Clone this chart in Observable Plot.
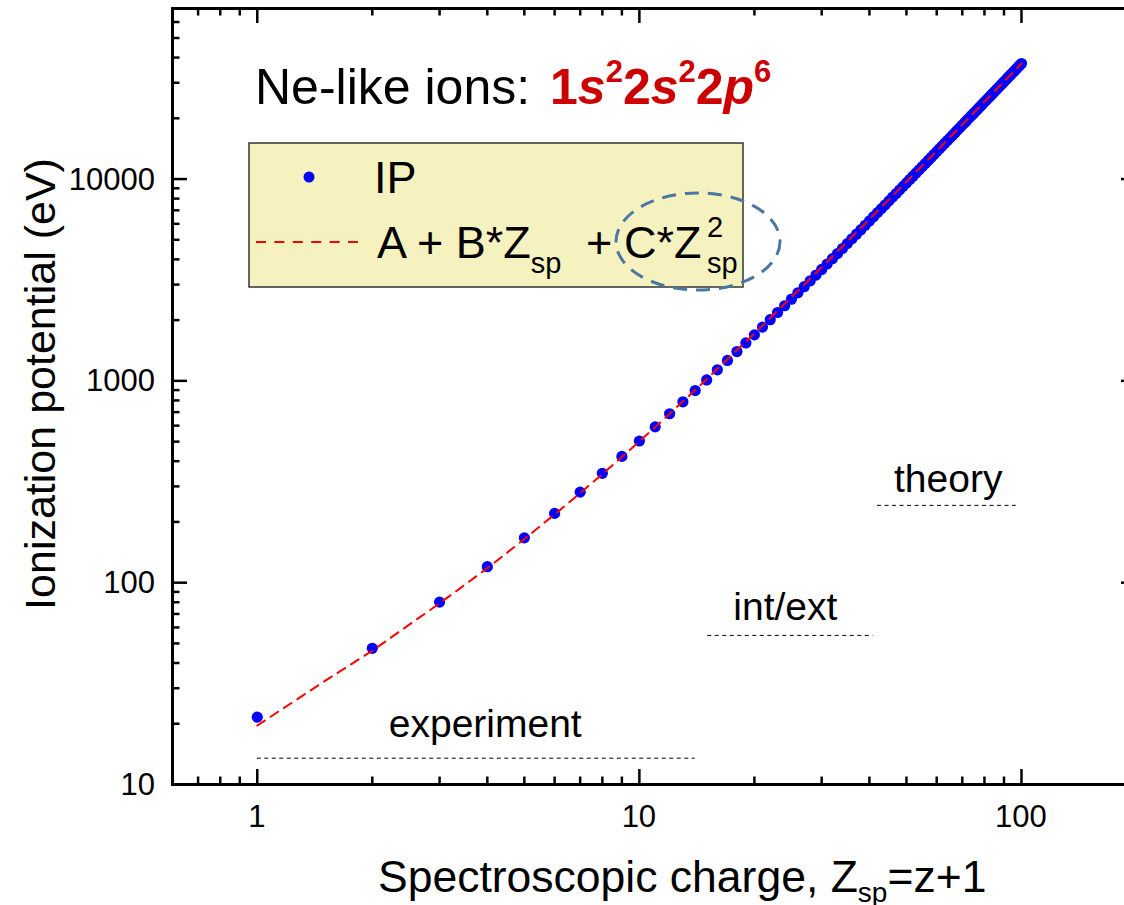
<!DOCTYPE html>
<html><head><meta charset="utf-8">
<script src="https://cdn.jsdelivr.net/npm/d3@7"></script>
<script src="https://cdn.jsdelivr.net/npm/@observablehq/plot@0.6"></script>
<style>
html,body{margin:0;padding:0;background:#fff;overflow:hidden}
#wrap{width:1124px;height:905px;overflow:hidden;position:relative}
#wrap svg{max-width:none !important}
</style></head><body><div id="wrap"></div>
<script>
// ---- data ----
const zsp = [1,2,3,4,5,6,7,8,9,10,11,12,13,14,15,16,17,18,19,20,21,22,23,24,25,26,27,28,29,30,31,32,33,34,35,36,37,38,39,40,41,42,43,44,45,46,47,48,49,50,51,52,53,54,55,56,57,58,59,60,61,62,63,64,65,66,67,68,69,70,71,72,73,74,75,76,77,78,79,80,81,82,83,84,85,86,87,88,89,90,91,92,93,94,95,96,97,98,99,100];
const ip = [21.56,47.29,80.14,119.99,166.77,220.43,280.95,348.31,422.45,503.67,
  591.6,687.36,787.67,896.0,1010.6,1134.7,1262.7,1397.2,1541.0,1690.5,
  1846.8,2010,2181,2356,2540,2731,2928,3133,3345,3565,
  3794,4030,4275,4528,4788,5056,5331,5613,5903,6199,
  6504,6815,7134,7460,7793,8134,8482,8837,9199,9569,
  9946,10331,10722,11121,11528,11941,12362,12790,13226,13669,
  14119,14576,15041,15513,15992,16479,16973,17474,17982,18498,
  19021,19552,20089,20634,21187,21746,22313,22887,23469,24058,
  24654,25257,25868,26486,27111,27744,28384,29031,29685,30347,
  31016,31693,32376,33067,33766,34471,35184,35904,36632,37367];
const fitZ = [1,1.5,2,2.5,3,4,5,6,7,8,10,12,15,20,25,30,40,50,60,70,80,90,100];
const fitIP = [19.6,32.5,46.0,62.0,79.0,118.0,164.5,218.0,278.0,345.0,501.0,686.2,1019.2,1718.2,2597.2,3656.2,6314.2,9692.2,13790.2,18608.2,24146.2,30404.2,37382.2];
const xMajor = [1,10,100];
const xTickLabels = ["1","10","100"];
const xMinor = [0.7,0.8,0.9,2,3,4,5,6,7,8,9,20,30,40,50,60,70,80,90];
const yMajor = [10,100,1000,10000];
const yTickLabels = ["10","100","1000","10000"];
const yMinor = [20,30,40,50,60,70,80,90,200,300,400,500,600,700,800,900,2000,3000,4000,5000,6000,7000,8000,9000,20000,30000,40000,50000,60000];
const regionNames = ["experiment","int/ext","theory"];
const regionTextX = [3.95,24.1,64.3];
const regionTextY = [17.1,65.0,280];
const regionLineX1 = [1,15.1,42.0];
const regionLineX2 = [14.0,40.9,96.9];
const regionLineY = [13.5,54.8,241.6];

// ---- layout ----
const W = 1136, H = 905, mL = 172, mR = 0, mT = 8, mB = 121;
const iw = W - mL - mR, ih = H - mT - mB;
const FONT = "'Liberation Sans', Arial, Helvetica, sans-serif";

const pts = zsp.map((z, i) => ({z, v: ip[i]}));
const fit = fitZ.map((z, i) => ({z, v: fitIP[i]}));
const regions = regionNames.map((n, i) => ({n, tx: regionTextX[i], ty: regionTextY[i], x1: regionLineX1[i], x2: regionLineX2[i], y: regionLineY[i]}));

const chart = Plot.plot({
  width: W, height: H,
  marginLeft: mL, marginRight: mR, marginTop: mT, marginBottom: mB,
  style: {fontFamily: FONT, background: "white", maxWidth: "none", overflow: "visible"},
  x: {type: "log", domain: [0.6, 200], axis: null},
  y: {type: "log", domain: [10, 70000], axis: null},
  marks: [
    // region separators
    Plot.ruleY(regions, {y: "y", x1: "x1", x2: "x2", stroke: "black", strokeWidth: 1, strokeDasharray: "4,3.5"}),
    Plot.text(regions, {x: "tx", y: "ty", text: "n", fontSize: 39, textAnchor: "middle", lineAnchor: "bottom", fill: "black"}),
    // data
    Plot.dot(pts, {x: "z", y: "v", r: 5.6, fill: "#0000ff", stroke: null}),
    Plot.line(fit, {x: "z", y: "v", stroke: "#ff0000", strokeWidth: 2, strokeDasharray: "9,7"}),
    // ticks (inward, all four sides)
    Plot.ruleX(xMajor, {x: d => d, insetTop: ih - 15, stroke: "black", strokeWidth: 2.5}),
    Plot.ruleX(xMajor, {x: d => d, insetBottom: ih - 15, stroke: "black", strokeWidth: 2.5}),
    Plot.ruleX(xMinor, {x: d => d, insetTop: ih - 7.5, stroke: "black", strokeWidth: 2.5}),
    Plot.ruleX(xMinor, {x: d => d, insetBottom: ih - 7.5, stroke: "black", strokeWidth: 2.5}),
    Plot.ruleY(yMajor, {y: d => d, insetRight: iw - 15, stroke: "black", strokeWidth: 2.5}),
    Plot.ruleY(yMajor, {y: d => d, insetLeft: iw - 15, stroke: "black", strokeWidth: 2.5}),
    Plot.ruleY(yMinor, {y: d => d, insetRight: iw - 7.5, stroke: "black", strokeWidth: 2.5}),
    Plot.ruleY(yMinor, {y: d => d, insetLeft: iw - 7.5, stroke: "black", strokeWidth: 2.5}),
    Plot.frame({stroke: "black", strokeWidth: 3})
  ]
});

document.getElementById("wrap").appendChild(chart);
const svg = d3.select(chart);
const sx = chart.scale("x"), sy = chart.scale("y");
const g = svg.append("g").attr("font-family", FONT).attr("text-anchor", "start");

// Tick labels positioned with the plot's own scales
xMajor.forEach((v, i) => {
  g.append("text").attr("x", sx.apply(v)).attr("y", 827).attr("text-anchor", "middle")
    .attr("font-size", 31).attr("fill", "black").text(xTickLabels[i]);
});
yMajor.forEach((v, i) => {
  g.append("text").attr("x", 155).attr("y", sy.apply(v) + 11).attr("text-anchor", "end")
    .attr("font-size", 31).attr("fill", "black").text(yTickLabels[i]);
});

// Title
const t = g.append("text").attr("x", 255).attr("y", 104).attr("font-size", 50).attr("fill", "black");
t.append("tspan").text("Ne-like ions: ");
const red = "#cc0000";
const parts = [
  {s: "1", it: false, sup: false},
  {s: "s", it: true, sup: false},
  {s: "2", it: false, sup: true},
  {s: "2", it: false, sup: false},
  {s: "s", it: true, sup: false},
  {s: "2", it: false, sup: true},
  {s: "2", it: false, sup: false},
  {s: "p", it: true, sup: false},
  {s: "6", it: false, sup: true}
];
let prevSup = false;
parts.forEach((p, i) => {
  const ts = t.append("tspan").attr("fill", red).attr("font-weight", "bold").text(p.s);
  if (i === 0) ts.attr("dx", 6);
  if (p.it) ts.attr("font-style", "italic");
  if (p.sup) { ts.attr("font-size", 31).attr("dy", -22); }
  else if (prevSup) { ts.attr("dy", 22); }
  prevSup = p.sup;
});

// Legend box
const lg = g.append("g");
lg.append("rect").attr("x", 249).attr("y", 143).attr("width", 494).attr("height", 144)
  .attr("fill", "#f6f2c0").attr("stroke", "#333").attr("stroke-width", 1.5);
lg.append("circle").attr("cx", 309).attr("cy", 177).attr("r", 5.5).attr("fill", "#0000ff");
lg.append("text").attr("x", 374).attr("y", 193).attr("font-size", 45).attr("fill", "black").text("IP");
lg.append("line").attr("x1", 256).attr("x2", 358).attr("y1", 242).attr("y2", 242)
  .attr("stroke", "#ff0000").attr("stroke-width", 2).attr("stroke-dasharray", "10,8.4");
const lt = lg.append("text").attr("y", 258).attr("font-size", 45).attr("fill", "black");
lt.append("tspan").attr("x", 377).text("A + B*Z");
lt.append("tspan").attr("font-size", 29).attr("dy", 15).text("sp");
lt.append("tspan").attr("x", 586).attr("dy", -15).text("+");
lt.append("tspan").attr("x", 624).text("C*Z");
lt.append("tspan").attr("x", 707).attr("font-size", 29).attr("dy", -21).text("2");
lt.append("tspan").attr("x", 707).attr("font-size", 29).attr("dy", 36).text("sp");

// dashed ellipse
g.append("ellipse").attr("cx", 698).attr("cy", 241.5).attr("rx", 82).attr("ry", 48.5)
  .attr("fill", "none").attr("stroke", "#4a78a2").attr("stroke-width", 3).attr("stroke-dasharray", "14,9");

// Axis titles
const xt = g.append("text").attr("x", 378).attr("y", 892).attr("font-size", 44.5).attr("fill", "black");
xt.append("tspan").text("Spectroscopic charge, Z");
xt.append("tspan").attr("font-size", 28).attr("dy", 10).text("sp");
xt.append("tspan").attr("dy", -10).text("=z+1");

g.append("text").attr("transform", "translate(55,384) rotate(-90)").attr("text-anchor", "middle")
  .attr("font-size", 43).attr("fill", "black").text("Ionization potential (eV)");
</script>
</body></html>
